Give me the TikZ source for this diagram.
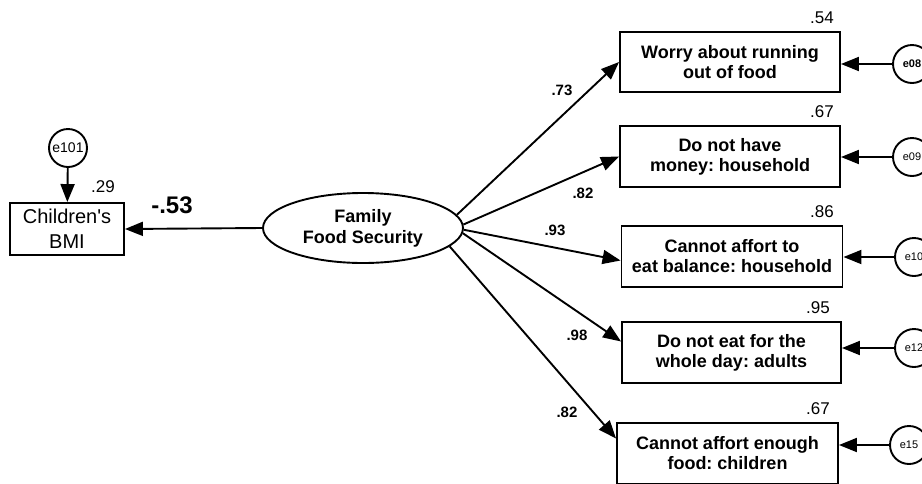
\documentclass[tikz,border=0pt]{standalone}
\usepackage{fontspec}
\setmainfont{Liberation Sans}
\usetikzlibrary{arrows.meta,shapes.geometric}
\frenchspacing
\begin{document}
\begin{tikzpicture}[x=1pt,y=-1pt,line width=1.9pt,
    item/.style={draw,rectangle,minimum width=220pt,minimum height=61pt,inner sep=0pt,
      align=center,font=\fontsize{18}{20}\selectfont\bfseries},
    err/.style={draw,circle,minimum size=38pt,inner sep=0pt,font=\fontsize{11}{12}\selectfont},
    rsq/.style={font=\fontsize{17}{18}\selectfont},
    coef/.style={font=\fontsize{15}{16}\selectfont\bfseries},
    path/.style={-{Triangle[length=18pt,width=14pt]}}]
  \useasboundingbox (0,0) rectangle (922,483);
  \draw
    (363,228) node[draw,ellipse,minimum width=200pt,minimum height=70pt,inner sep=0pt,align=center,
      font=\fontsize{18}{21}\selectfont\bfseries] (ffs){Family\\Food Security}
    (67,229) node[draw,rectangle,minimum width=114pt,minimum height=52pt,inner sep=0pt,align=center,
      font=\fontsize{20}{25}\selectfont] (bmi){Children\textquotesingle s\\BMI}
    (68,148) node[err,font=\fontsize{14}{15}\selectfont] (e101){e101}
    (730,62) node[item,minimum height=60pt] (b1){Worry about running\\out of food}
    (730,156.5) node[item] (b2){Do not have\\money: household}
    (732,256.5) node[item,minimum width=221pt] (b3){Cannot affort to\\eat balance: household}
    (731.5,352.5) node[item,minimum width=219pt] (b4){Do not eat for the\\whole day: adults}
    (727.5,453.5) node[item,minimum width=221pt] (b5){Cannot affort enough\\food: children}
    (912,64) node[err,font=\fontsize{11}{12}\selectfont\bfseries] (e08){e08}
    (912,157) node[err] (e09){e09}
    (914,257) node[err] (e10){e10}
    (914,348) node[err] (e12){e12}
    (909,445) node[err] (e15){e15};
  % texts beside the nodes
  \draw
    (103,187) node[rsq] (r0){.29}
    (822,18) node[rsq] (r1){.54}
    (822,112) node[rsq] (r2){.67}
    (822,212) node[rsq] (r3){.86}
    (818,308) node[rsq] (r4){.95}
    (818,409) node[rsq] (r5){.67}
    (172,205) node[font=\fontsize{24}{26}\selectfont\bfseries] (c0){-.53}
    (562,90) node[coef] (c1){.73}
    (583,193) node[coef] (c2){.82}
    (555,230) node[coef] (c3){.93}
    (577,335) node[coef] (c4){.98}
    (567,412) node[coef] (c5){.82};
  \begin{scope}[path]
    \draw (ffs.west) to (bmi.east);
    \draw (e101) to (bmi);
    \draw (ffs.8) to (b1.west);
    \draw (ffs.2) to (b2.west);
    \draw (ffs.-1) to ([yshift=-4pt]b3.west);
    \draw (ffs.-3) to ([yshift=11pt]b4.west);
    \draw (ffs.-12) to ([yshift=15pt]b5.west);
    \draw (e08) to (e08 -| b1.east);
    \draw (e09) to (e09 -| b2.east);
    \draw (e10) to (e10 -| b3.east);
    \draw (e12) to (e12 -| b4.east);
    \draw (e15) to (e15 -| b5.east);
  \end{scope}
\end{tikzpicture}
\end{document}
